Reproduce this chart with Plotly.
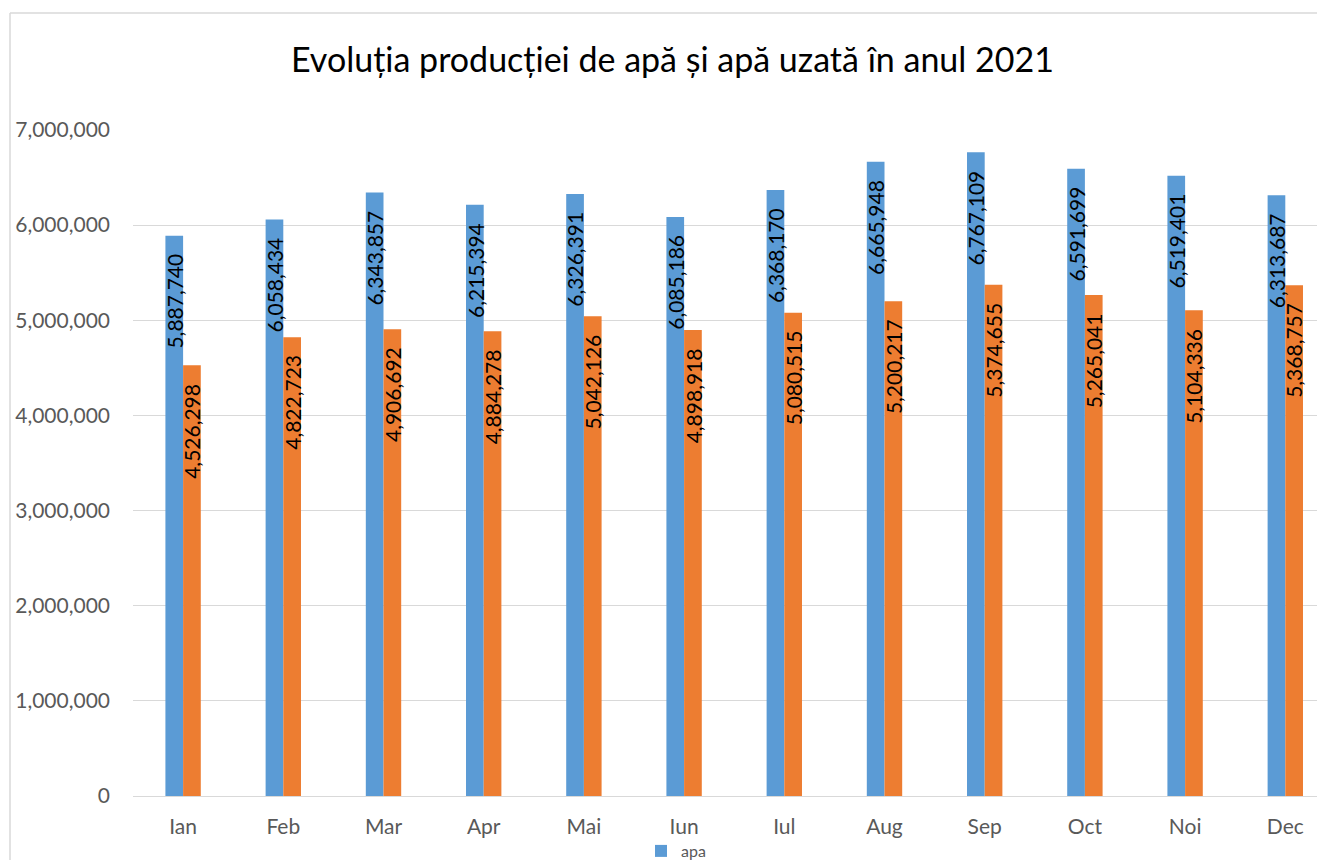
import plotly.graph_objects as go

months = ["Ian", "Feb", "Mar", "Apr", "Mai", "Iun", "Iul", "Aug", "Sep", "Oct", "Noi", "Dec"]
apa = [5887740, 6058434, 6343857, 6215394, 6326391, 6085186, 6368170, 6665948, 6767109, 6591699, 6519401, 6313687]
apa_uzata = [4526298, 4822723, 4906692, 4884278, 5042126, 4898918, 5080515, 5200217, 5374655, 5265041, 5104336, 5368757]
y_ticks = [0, 1000000, 2000000, 3000000, 4000000, 5000000, 6000000, 7000000]
title_text = "Evoluția producției de apă și apă uzată în anul 2021"

BLUE = "#5B9BD5"
ORANGE = "#ED7D31"
FONT = "Lato"

# page has an 8px body margin; figure coordinates are page coordinates minus 8
OFF = 8
W, H = 1325 - 2 * OFF, 868 - 2 * OFF
PL, PR, PT, PB = 133 - OFF, W, 130 - OFF, 796 - OFF
PW, PH = PR - PL, PB - PT
unit_px = 100.2
x_max = -0.5 + PW / unit_px


def px(xp):
    return (xp - OFF - PL) / PW


def py(yp):
    return (PB - (yp - OFF)) / PH


fig = go.Figure()
fig.add_trace(go.Bar(x=months, y=apa, name="apa", marker_color=BLUE, marker_line_width=0))
fig.add_trace(go.Bar(x=months, y=apa_uzata, name="apa uzata", marker_color=ORANGE,
                     marker_line_width=0, showlegend=False))

annotations = []
bar_px = 17.7
for series, sgn in ((apa, -1), (apa_uzata, 1)):
    for m, v in zip(months, series):
        annotations.append(dict(x=m, y=v, xref="x", yref="y", text=f"{v:,}", showarrow=False,
                                textangle=-90, xanchor="center", yanchor="top",
                                xshift=sgn * bar_px / 2, yshift=-16,
                                font=dict(family=FONT, size=21, color="#000000")))
annotations.append(dict(text=title_text, xref="paper", yref="paper", x=px(672),
                        y=py(58), xanchor="center", yanchor="middle", showarrow=False,
                        font=dict(family=FONT, size=34, color="#000000")))

fig.update_layout(
    width=W, height=H,
    margin=dict(l=PL, r=W - PR, t=PT, b=H - PB, autoexpand=False),
    paper_bgcolor="white", plot_bgcolor="white",
    barmode="group", bargap=0.647, bargroupgap=0,
    font=dict(family=FONT, color="#595959"),
    annotations=annotations,
    showlegend=True,
    legend=dict(orientation="h", x=px(641), y=py(851),
                xanchor="left", yanchor="middle", font=dict(family=FONT, size=16, color="#595959"),
                itemwidth=30, bgcolor="rgba(0,0,0,0)", borderwidth=0),
    shapes=[
        dict(type="line", xref="paper", yref="paper", x0=px(10), x1=1.0, y0=py(13), y1=py(13),
             line=dict(color="#D9D9D9", width=1.5)),
        dict(type="line", xref="paper", yref="paper", x0=px(10), x1=px(10), y0=py(13), y1=py(860),
             line=dict(color="#D9D9D9", width=1.5)),
    ],
)
fig.update_xaxes(range=[-0.5, x_max], showgrid=False, showline=True, linecolor="#D9D9D9",
                 linewidth=1, ticks="", tickfont=dict(family=FONT, size=21, color="#595959"),
                 ticklabelstandoff=12)
fig.update_yaxes(range=[0, 7000000], tickvals=y_ticks, tickformat=",", showgrid=True,
                 gridcolor="#D9D9D9", gridwidth=1, zeroline=False, showline=False, ticks="",
                 tickfont=dict(family=FONT, size=21, color="#595959"), ticklabelstandoff=22)

fig.write_html("out.html")
